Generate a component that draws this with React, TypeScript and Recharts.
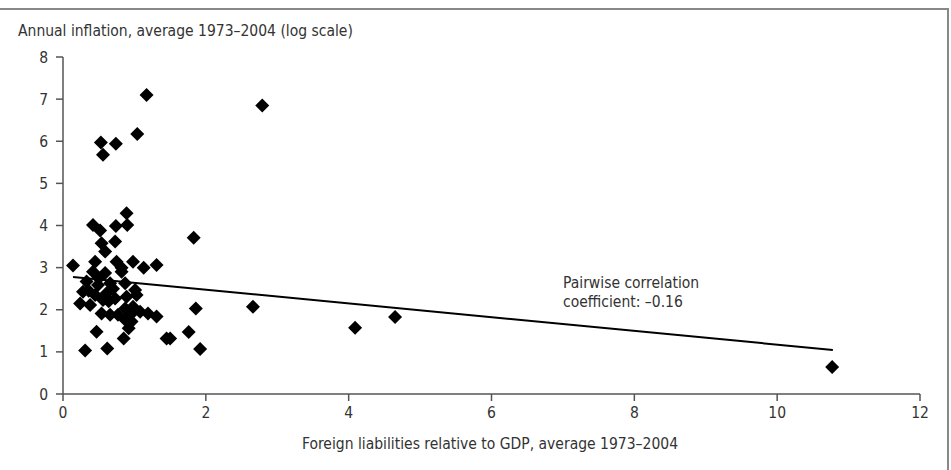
import React from "react";
import {
  ScatterChart,
  Scatter,
  XAxis,
  YAxis,
  ReferenceLine,
} from "recharts";

const liabilities = [
  1.17, 2.79, 1.04, 0.53, 0.74, 0.56, 1.83, 2.66, 4.09, 4.65, 10.77, 1.86, 1.76, 1.92, 1.45, 1.5,
  0.89, 0.42, 0.52, 0.74, 0.9, 0.54, 0.73, 0.59, 0.14, 0.45, 0.75, 0.98, 1.13, 1.31, 0.82,
  0.42, 0.59, 0.82, 0.33, 0.49, 0.66, 0.87, 1.01, 0.28, 0.45, 0.61, 0.89, 1.03, 0.56, 0.73,
  0.24, 0.38, 0.87, 0.98, 0.54, 0.66, 0.77, 0.96, 1.08, 1.19, 1.31, 0.87, 0.96, 0.92, 0.47,
  0.85, 0.31, 0.62, 0.5, 0.7, 0.36, 0.64,
];
const inflation = [
  7.1, 6.85, 6.17, 5.97, 5.94, 5.68, 3.71, 2.07, 1.57, 1.83, 0.64, 2.03, 1.47, 1.07, 1.32, 1.32,
  4.29, 4.01, 3.88, 3.99, 4.01, 3.58, 3.62, 3.38, 3.05, 3.14, 3.14, 3.14, 3.0, 3.06, 3.0,
  2.9, 2.87, 2.9, 2.67, 2.59, 2.63, 2.63, 2.47, 2.43, 2.35, 2.39, 2.31, 2.35, 2.23, 2.27,
  2.15, 2.11, 2.03, 2.07, 1.91, 1.88, 1.88, 1.91, 1.95, 1.91, 1.84, 1.76, 1.72, 1.56, 1.48,
  1.32, 1.03, 1.08, 2.75, 2.5, 2.45, 2.2,
];
const trendX = [0.14, 10.78];
const trendY = [2.78, 1.045];
const xTicks = [0, 2, 4, 6, 8, 10, 12];
const yTicks = [0, 1, 2, 3, 4, 5, 6, 7, 8];

const points = liabilities.map((x, i) => ({ x, y: inflation[i] }));

const FONT = "'DejaVu Sans Condensed', 'Liberation Sans', sans-serif";
const TEXT = "#333";
const AXIS = "#555";
const FS = 15.5;

const Diamond = (props: any) => {
  const { cx, cy } = props;
  const r = 7;
  return (
    <polygon
      points={`${cx},${cy - r} ${cx + r},${cy} ${cx},${cy + r} ${cx - r},${cy}`}
      fill="#000"
    />
  );
};

export default function App() {
  return (
    <div
      style={{
        position: "absolute",
        left: 0,
        top: 0,
        width: 951,
        height: 470,
        background: "#fff",
        fontFamily: FONT,
      }}
    >
      <div style={{ position: "absolute", left: 0, top: 8, width: 949, height: 2, background: "#888" }} />
      <div style={{ position: "absolute", left: 947, top: 8, width: 2, height: 462, background: "#888" }} />
      <div
        style={{
          position: "absolute",
          left: 18,
          top: 22,
          fontSize: FS,
          color: TEXT,
          whiteSpace: "nowrap",
        }}
      >
        Annual inflation, average 1973–2004 (log scale)
      </div>
      <div
        style={{
          position: "absolute",
          left: 0,
          width: 980,
          top: 435,
          fontSize: FS,
          color: TEXT,
          textAlign: "center",
          whiteSpace: "nowrap",
        }}
      >
        Foreign liabilities relative to GDP, average 1973–2004
      </div>
      <div
        style={{
          position: "absolute",
          left: 563,
          top: 274,
          fontSize: FS,
          lineHeight: "19px",
          color: TEXT,
          whiteSpace: "nowrap",
        }}
      >
        Pairwise correlation
        <br />
        coefficient: –0.16
      </div>
      <div style={{ position: "absolute", left: 0, top: 0 }}>
        <ScatterChart
          width={951}
          height={470}
          margin={{ top: 57, right: 31, bottom: 0, left: 0 }}
        >
          <XAxis
            type="number"
            dataKey="x"
            domain={[0, 12]}
            ticks={xTicks}
            interval={0}
            height={76}
            axisLine={{ stroke: AXIS, strokeWidth: 1.5 }}
            tickLine={{ stroke: AXIS, strokeWidth: 1.5 }}
            tickSize={7}
            tickMargin={6}
            tick={{ fill: TEXT, fontSize: FS, fontFamily: FONT }}
            allowDataOverflow
          />
          <YAxis
            type="number"
            dataKey="y"
            domain={[0, 8]}
            ticks={yTicks}
            interval={0}
            width={63}
            axisLine={{ stroke: AXIS, strokeWidth: 1.5 }}
            tickLine={{ stroke: AXIS, strokeWidth: 1.5 }}
            tickSize={7}
            tickMargin={8}
            tick={{ fill: TEXT, fontSize: FS, fontFamily: FONT }}
            allowDataOverflow
          />
          <ReferenceLine
            segment={[
              { x: trendX[0], y: trendY[0] },
              { x: trendX[1], y: trendY[1] },
            ]}
            stroke="#000"
            strokeWidth={2}
          />
          <Scatter data={points} shape={Diamond} isAnimationActive={false} />
        </ScatterChart>
      </div>
    </div>
  );
}
